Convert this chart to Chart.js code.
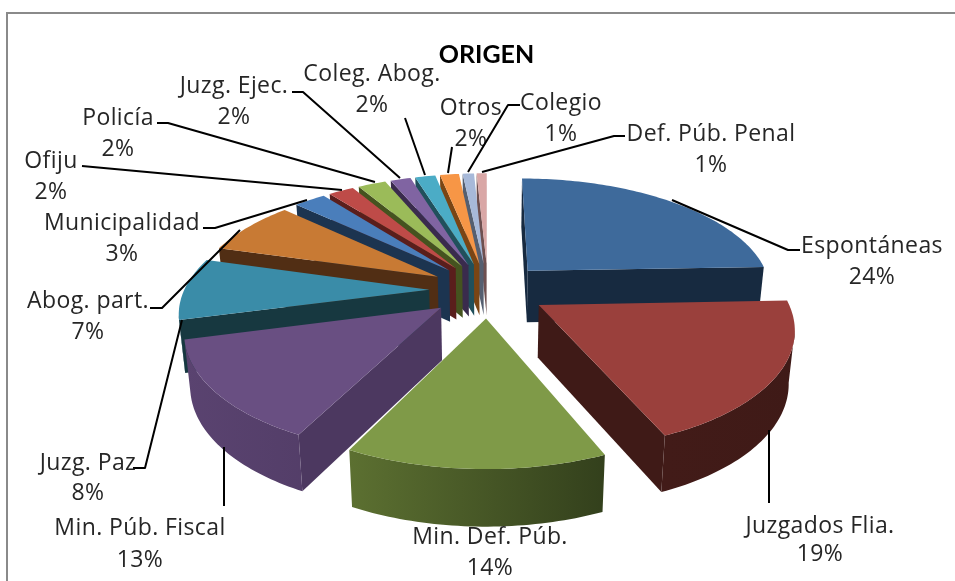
<!DOCTYPE html>
<html><head><meta charset="utf-8">
<style>html,body{margin:0;padding:0;background:#fff}canvas{display:block}</style>
<script src="https://cdn.jsdelivr.net/npm/chart.js@4"></script></head>
<body><canvas id="c" width="955" height="581"></canvas>
<script>
const categories = ["Espontáneas","Juzgados Flia.","Min. Def. Púb.","Min. Púb. Fiscal","Juzg. Paz","Abog. part.","Municipalidad","Ofiju","Policía","Juzg. Ejec.","Coleg. Abog.","Otros","Colegio","Def. Púb. Penal"];
const values = [24.4,19.2,13.8,13.49,8.49,7.49,2.5,2.0,2.2,1.6,1.6,1.5,0.9,0.8];
const topColors = ["#3E6A9B","#9A403C","#7F9A48","#694F82","#3A8CA8","#C87A34","#4A7EBB","#BE4B48","#9BBB59","#8064A2","#4BACC6","#F79646","#A7B9D9","#D9A7A6"];
const sideColors = ["#172A40","#3F1A17","#4C5C2A","#4C3860","#173840","#512E14","#1C3450","#5A1E1C","#45531F","#3A2B4D","#20505C","#7A4514","#555F70","#6F5050"];
const rimLeft = ["#1E3650","#451C19","#5C7031","#5A4370","#1A4450","#5C3417","#1C3450","#5A1E1C","#45531F","#3A2B4D","#20505C","#7A4514","#555F70","#6F5050"];
const rimRight = ["#172A40","#3F1A17","#33401C","#4C3860","#173840","#512E14","#1C3450","#5A1E1C","#45531F","#3A2B4D","#20505C","#7A4514","#555F70","#6F5050"];

// label layout: centre x, first line y, second line y, leader polyline
const labelLayout = [
 [872,246,277,[[800,250],[788,250],[672,200]]],
 [820,526,554,[[769,503],[769,430]]],
 [490,537,568,[]],
 [140,528,560,[[224,506],[224,447]]],
 [88,463,493,[[133,468],[145,468],[182,320]]],
 [88,301,332,[[150,308],[162,308],[240,230]]],
 [122,223,254,[[203,228],[215,228],[307,200]]],
 [51,161,192,[[82,166],[342,190]]],
 [118,118,149,[[157,123],[168,123],[375,182]]],
 [234,86,117,[[292,92],[303,92],[400,178]]],
 [372,74,105,[[405,118],[425,175]]],
 [471,108,139,[[452,147],[448,173]]],
 [561,103,134,[[520,105],[508,105],[468,172]]],
 [711,134,165,[[625,136],[614,136],[482,172]]]
];
const FONT = '"Open Sans", sans-serif';
const TITLE_FONT = 'Lato, sans-serif';
const view = {cx:488, cy:290, bx:245, ay:114, k:0.17, e:0.24, h:52, shrink:0.98};

function project(x,y,low){
  const s = 1/(1-view.k*y);
  const f = low ? view.shrink : 1;
  const wall = low ? view.h*(1+0.4*(s-1)) : 0;
  return {x:view.cx+view.bx*x*s*f, y:view.cy+view.ay*y*s+wall};
}
function slicePoints(arc){
  const a0 = arc.startAngle+Math.PI/2, a1 = arc.endAngle+Math.PI/2, m=(a0+a1)/2;
  const ox = view.e*Math.sin(m), oy = -view.e*Math.cos(m);
  const pts=[[ox,oy]];
  const n = Math.max(3,Math.ceil((a1-a0)/0.02));
  for(let i=0;i<=n;i++){const t=a0+(a1-a0)*i/n; pts.push([ox+Math.sin(t),oy-Math.cos(t)]);}
  return {pts,my:-Math.cos(m)};
}
function fillPoly(ctx,pts,color){
  ctx.beginPath();
  pts.forEach((p,j)=>j?ctx.lineTo(p.x,p.y):ctx.moveTo(p.x,p.y));
  ctx.closePath();ctx.fillStyle=color;ctx.fill();
}
const pie3d = {
  id:'pie3d',
  beforeDatasetsDraw(chart){
    const ctx = chart.ctx, meta = chart.getDatasetMeta(0);
    const order = meta.data.map((arc,i)=>({i,...slicePoints(arc)})).sort((a,b)=>a.my-b.my);
    for(const sl of order){
      const top = sl.pts.map(p=>project(p[0],p[1],false));
      const low = sl.pts.map(p=>project(p[0],p[1],true));
      const n = top.length;
      const xs = top.map(p=>p.x);
      const grad = ctx.createLinearGradient(Math.min(...xs),0,Math.max(...xs),0);
      grad.addColorStop(0,rimLeft[sl.i]); grad.addColorStop(1,rimRight[sl.i]);
      [[0,1],[n-1,0]].forEach(([a,b])=>{
        if(top[b].x<top[a].x) fillPoly(ctx,[top[a],top[b],low[b],low[a]],sideColors[sl.i]);
      });
      let run=[];
      const flush=()=>{
        if(run.length>1){
          const poly=run.map(j=>top[j]).concat(run.slice().reverse().map(j=>low[j]));
          fillPoly(ctx,poly,grad);
        }
        run=[];
      };
      for(let j=1;j<n-1;j++){
        if(top[j+1].x<top[j].x){ if(!run.length) run.push(j); run.push(j+1);} else flush();
      }
      flush();
      fillPoly(ctx,top,topColors[sl.i]);
    }
    return false;
  },
  afterDraw(chart){
    const ctx = chart.ctx;
    ctx.save();
    ctx.strokeStyle='#8a8a8a';ctx.lineWidth=2;
    ctx.beginPath();ctx.moveTo(7,581);ctx.lineTo(7,13);ctx.lineTo(955,13);ctx.stroke();
    const total = values.reduce((a,b)=>a+b,0);
    ctx.strokeStyle='#000';ctx.lineWidth=2;ctx.lineJoin='round';
    labelLayout.forEach((l,i)=>{
      const path=l[3];
      if(path.length){ctx.beginPath();path.forEach((p,j)=>j?ctx.lineTo(p[0],p[1]):ctx.moveTo(p[0],p[1]));ctx.stroke();}
      ctx.fillStyle='#262626';ctx.font='23px '+FONT;ctx.letterSpacing='0.4px';ctx.textAlign='center';ctx.textBaseline='middle';
      ctx.fillText(categories[i],l[0],l[1]);
      ctx.fillText(Math.round(values[i]/total*100)+'%',l[0],l[2]);
    });
    ctx.restore();
  }
};
new Chart(document.getElementById('c'),{
  type:'pie',
  data:{labels:categories,datasets:[{data:values,backgroundColor:topColors,borderWidth:0}]},
  options:{responsive:false,animation:false,layout:{padding:{left:18,top:40}},
    plugins:{legend:{display:false},tooltip:{enabled:false},
      title:{display:true,text:'ORIGEN',color:'#000',font:{family:TITLE_FONT,size:25,weight:'bold'},padding:0}}},
  plugins:[pie3d]
});
</script></body></html>
